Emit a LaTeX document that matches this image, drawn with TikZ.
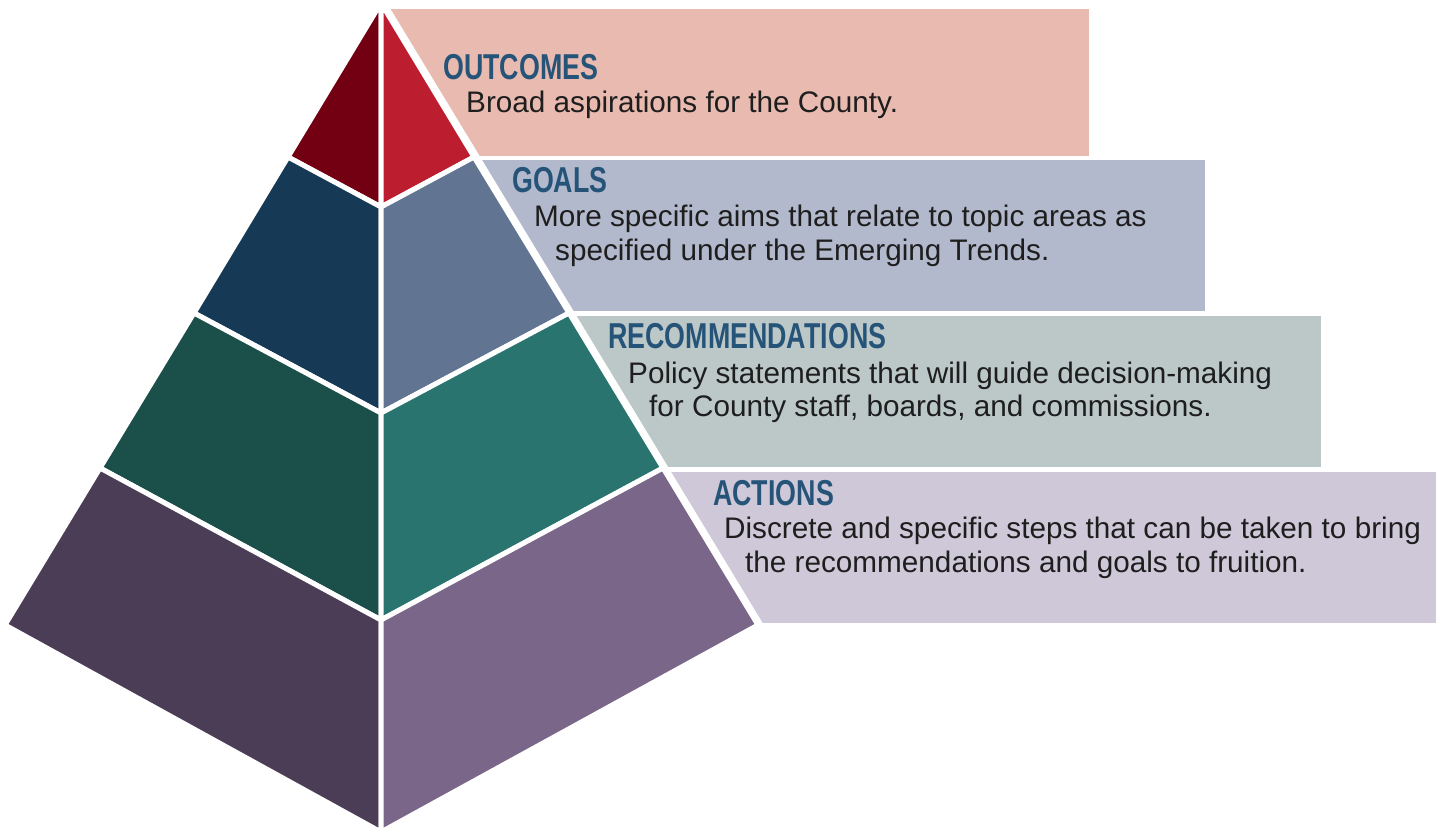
\documentclass[tikz,border=0pt]{standalone}
\usepackage{fontspec}
\setmainfont{Liberation Sans}
\newfontfamily\headfont[FakeStretch=0.745]{Liberation Sans}
\usetikzlibrary{calc}

\definecolor{outL}{HTML}{730012}
\definecolor{outR}{HTML}{BC1E30}
\definecolor{goalL}{HTML}{163A56}
\definecolor{goalR}{HTML}{617592}
\definecolor{recL}{HTML}{1B4F4A}
\definecolor{recR}{HTML}{2A7470}
\definecolor{actL}{HTML}{4B3D56}
\definecolor{actR}{HTML}{7A6688}
\definecolor{outBox}{HTML}{E9BAAF}
\definecolor{goalBox}{HTML}{B3B9CC}
\definecolor{recBox}{HTML}{BCC8C8}
\definecolor{actBox}{HTML}{CEC8D8}
\definecolor{headblue}{HTML}{265479}
\definecolor{bodytext}{HTML}{1E1E1E}

\begin{document}
\begin{tikzpicture}[x=1pt,y=-1pt,
    face/.style={draw=white,line width=5pt,line join=round},
    head/.style={anchor=base west,inner sep=0pt,text=headblue,
      font=\headfont\bfseries\fontsize{36}{36}\selectfont},
    body/.style={anchor=base west,inner sep=0pt,text=bodytext,
      font=\fontsize{29.7}{34}\selectfont}]
	\useasboundingbox (0,0) rectangle (1440,829);
	% text boxes behind the pyramid
	\fill[outBox] (381,9) rectangle (1089,156);
	\fill[goalBox] (381,160) rectangle (1205,311);
	\fill[recBox] (381,316) rectangle (1321,467);
	\fill[actBox] (381,472) rectangle (1436,623);
	% pyramid corners
	\coordinate (apex) at (381,3);
	\coordinate (l1) at (288,157);
	\coordinate (c1) at (381,207);
	\coordinate (r1) at (474,157);
	\coordinate (l2) at (194,313);
	\coordinate (c2) at (381,413);
	\coordinate (r2) at (569,313);
	\coordinate (l3) at (100,468);
	\coordinate (c3) at (381,620);
	\coordinate (r3) at (663,468);
	\coordinate (l4) at (5,625);
	\coordinate (c4) at (381,832);
	\coordinate (r4) at (758,625);
	\draw[white,line width=10pt,line join=round] (apex) -- (r4) -- (c4) -- (l4) -- cycle;
	% faces
	\filldraw[face,fill=outL] (apex) -- (c1) -- (l1) -- cycle;
	\filldraw[face,fill=outR] (apex) -- (r1) -- (c1) -- cycle;
	\filldraw[face,fill=goalL] (l1) -- (c1) -- (c2) -- (l2) -- cycle;
	\filldraw[face,fill=goalR] (c1) -- (r1) -- (r2) -- (c2) -- cycle;
	\filldraw[face,fill=recL] (l2) -- (c2) -- (c3) -- (l3) -- cycle;
	\filldraw[face,fill=recR] (c2) -- (r2) -- (r3) -- (c3) -- cycle;
	\filldraw[face,fill=actL] (l3) -- (c3) -- (c4) -- (l4) -- cycle;
	\filldraw[face,fill=actR] (c3) -- (r3) -- (r4) -- (c4) -- cycle;
	% labels
	\node[head] (outH) at (443,80) {OUTCOMES};
	\node[body] (outT) at (466,113) {Broad aspirations for the County.};
	\node[head] (goalH) at (512,193) {GOALS};
	\node[body] (goalT1) at (534,226) {More specific aims that relate to topic areas as};
	\node[body] (goalT2) at (555,260) {specified under the Emerging Trends.};
	\node[head] (recH) at (608,348) {RECOMMENDATIONS};
	\node[body] (recT1) at (628,383) {Policy statements that will guide decision-making};
	\node[body] (recT2) at (649,416) {for County staff, boards, and commissions.};
	\node[head] (actH) at (713,505) {ACTIONS};
	\node[body] (actT1) at (724,538) {Discrete and specific steps that can be taken to bring};
	\node[body] (actT2) at (745,572) {the recommendations and goals to fruition.};
\end{tikzpicture}
\end{document}
